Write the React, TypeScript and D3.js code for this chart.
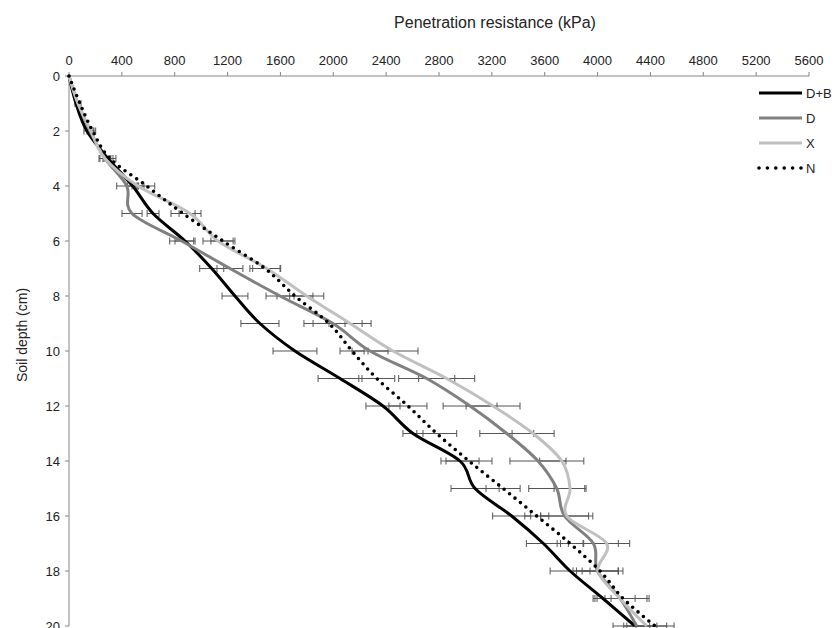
import React from "react";
import * as d3 from "d3";

const depths = [0, 1, 2, 3, 4, 5, 6, 7, 8, 9, 10, 11, 12, 13, 14, 15, 16, 17, 18, 19, 20];
const xTicks = [0, 400, 800, 1200, 1600, 2000, 2400, 2800, 3200, 3600, 4000, 4400, 4800, 5200, 5600];
const yTicks = [0, 2, 4, 6, 8, 10, 12, 14, 16, 18, 20];

const seriesNames = ["D+B", "D", "X", "N"];
const valDB = [0, 53, 136, 295, 482, 636, 878, 1080, 1256, 1445, 1710, 2051, 2376, 2603, 2959, 3073, 3350, 3590, 3792, 4041, 4283];
const valD = [0, 68, 159, 272, 437, 477, 853, 1218, 1597, 1998, 2278, 2707, 3035, 3313, 3549, 3691, 3750, 3968, 3999, 4170, 4296];
const valX = [0, 68, 166, 272, 522, 916, 1128, 1496, 1799, 2127, 2452, 2858, 3209, 3512, 3729, 3792, 3767, 4069, 4003, 4170, 4372];
const valN = [0, 83, 179, 310, 588, 863, 1165, 1483, 1710, 1968, 2142, 2329, 2565, 2783, 3027, 3285, 3540, 3792, 4019, 4193, 4435];

const errDB = [0, 8, 23, 38, 38, 45, 76, 91, 98, 144, 166, 166, 129, 76, 144, 182, 144, 129, 151, 61, 166];
const errD = [0, 8, 23, 45, 76, 76, 91, 98, 106, 220, 136, 212, 204, 204, 212, 212, 182, 189, 159, 114, 98];
const errX = [0, 8, 23, 38, 45, 83, 114, 106, 129, 159, 189, 212, 204, 159, 167, 121, 197, 174, 189, 204, 151];
const errN = [0, 8, 23, 45, 61, 91, 91, 114, 136, 121, 91, 136, 144, 151, 174, 129, 91, 98, 136, 197, 144];

const W = 834;
const H = 628;
const FONT = "'Liberation Sans', Arial, sans-serif";

const seriesStyle: Record<string, { color: string; width: number; dash?: string }> = {
  "D+B": { color: "#000000", width: 3 },
  D: { color: "#808080", width: 3 },
  X: { color: "#c0c0c0", width: 3 },
  N: { color: "#000000", width: 3.6, dash: "0 7" },
};

export default function App() {
  const x = d3.scaleLinear().domain([0, 5600]).range([69, 809]);
  const y = d3.scaleLinear().domain([0, 20]).range([76, 626]);

  const series = [
    { name: seriesNames[0], vals: valDB, errs: errDB },
    { name: seriesNames[1], vals: valD, errs: errD },
    { name: seriesNames[2], vals: valX, errs: errX },
    { name: seriesNames[3], vals: valN, errs: errN },
  ];

  const line = d3
    .line<[number, number]>()
    .x((d) => x(d[0]))
    .y((d) => y(d[1]))
    .curve(d3.curveCardinal.tension(0));

  const axisColor = "#868686";
  const textColor = "#222";

  return (
    <svg
      width={W}
      height={H}
      style={{ position: "absolute", left: 0, top: 0, display: "block", background: "#fff" }}
      fontFamily={FONT}
    >
      <rect x={0} y={0} width={W} height={H} fill="#fff" />
      {/* x axis title */}
      <text x={495} y={28} textAnchor="middle" fontSize={16} fill={textColor}>
        Penetration resistance (kPa)
      </text>
      {/* y axis title */}
      <text
        transform={`translate(27,${335}) rotate(-90)`}
        textAnchor="middle"
        fontSize={14}
        fill={textColor}
      >
        Soil depth (cm)
      </text>

      {/* top x axis */}
      <line x1={x(0)} x2={x(5600)} y1={y(0)} y2={y(0)} stroke={axisColor} strokeWidth={1} />
      {xTicks.map((t) => (
        <g key={"xt" + t}>
          <line x1={x(t)} x2={x(t)} y1={y(0) - 4} y2={y(0)} stroke={axisColor} />
          <text x={x(t)} y={65} textAnchor="middle" fontSize={13} fill={textColor}>
            {t}
          </text>
        </g>
      ))}

      {/* left y axis */}
      <line x1={x(0)} x2={x(0)} y1={y(0)} y2={y(20)} stroke={axisColor} strokeWidth={1} />
      {yTicks.map((t) => (
        <g key={"yt" + t}>
          <line x1={x(0) - 4} x2={x(0)} y1={y(t)} y2={y(t)} stroke={axisColor} />
          <text x={60} y={y(t)} dy="0.35em" textAnchor="end" fontSize={13} fill={textColor}>
            {t}
          </text>
        </g>
      ))}

      {/* error bars */}
      {series.map((s) => (
        <g key={"eb" + s.name} stroke="#555" strokeWidth={1}>
          {depths.map((dep, i) =>
            s.errs[i] > 0 ? (
              <g key={i}>
                <line x1={x(s.vals[i] - s.errs[i])} x2={x(s.vals[i] + s.errs[i])} y1={y(dep)} y2={y(dep)} />
                <line x1={x(s.vals[i] - s.errs[i])} x2={x(s.vals[i] - s.errs[i])} y1={y(dep) - 3.5} y2={y(dep) + 3.5} />
                <line x1={x(s.vals[i] + s.errs[i])} x2={x(s.vals[i] + s.errs[i])} y1={y(dep) - 3.5} y2={y(dep) + 3.5} />
              </g>
            ) : null
          )}
        </g>
      ))}

      {/* lines */}
      {series.map((s) => {
        const st = seriesStyle[s.name];
        const pts = depths.map((dep, i) => [s.vals[i], dep] as [number, number]);
        return (
          <path
            key={"ln" + s.name}
            d={line(pts) || ""}
            fill="none"
            stroke={st.color}
            strokeWidth={st.width}
            strokeDasharray={st.dash}
            strokeLinecap={st.dash ? "round" : "butt"}
            strokeLinejoin="round"
          />
        );
      })}

      {/* legend */}
      {series.map((s, i) => {
        const st = seriesStyle[s.name];
        const ly = 93 + i * 25;
        return (
          <g key={"lg" + s.name}>
            <line
              x1={759}
              x2={802}
              y1={ly}
              y2={ly}
              stroke={st.color}
              strokeWidth={st.width}
              strokeDasharray={st.dash ? "0 8.4" : undefined}
              strokeLinecap={st.dash ? "round" : "butt"}
            />
            <text x={806} y={ly} dy="0.35em" fontSize={13} fill={textColor}>
              {s.name}
            </text>
          </g>
        );
      })}
    </svg>
  );
}
